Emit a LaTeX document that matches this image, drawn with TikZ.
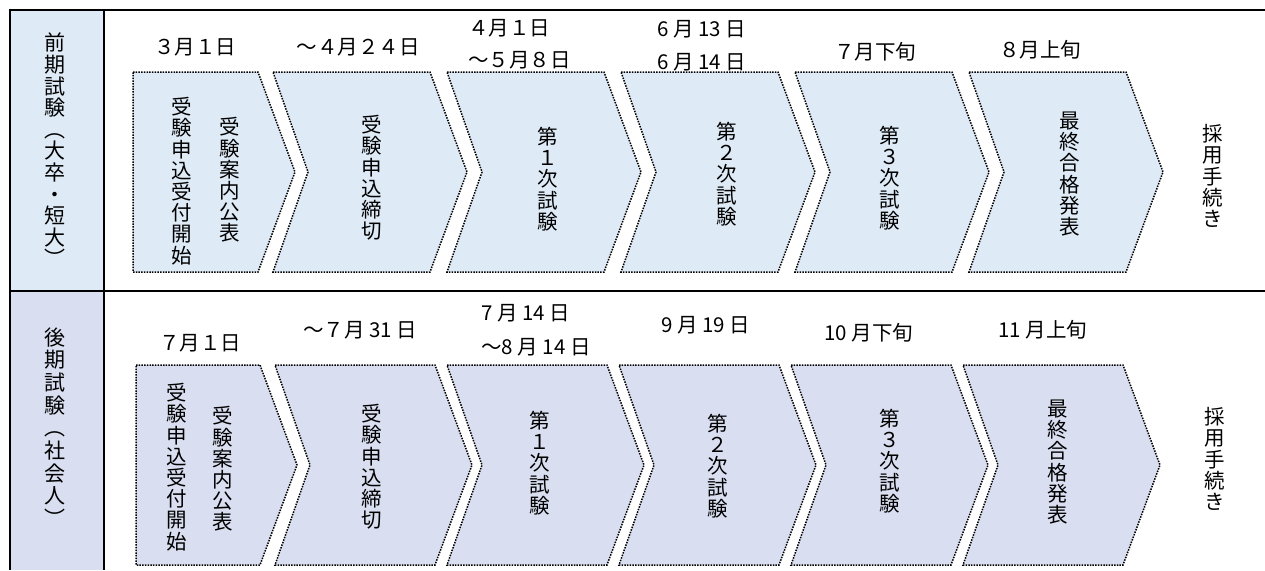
\documentclass[tikz,border=0pt]{standalone}
\usepackage{fontspec}
\setmainfont{Noto Sans CJK JP}
\definecolor{rowA}{HTML}{DEEAF6}
\definecolor{rowB}{HTML}{D9DEF0}
\tikzset{
  chevA/.style={draw=black, dash pattern=on 1.5pt off 1.2pt, line width=1.5pt, fill=rowA},
  chevB/.style={draw=black, dash pattern=on 1.5pt off 1.2pt, line width=1.5pt, fill=rowB},
  datelbl/.style={font=\fontsize{20.5}{23}\selectfont, inner sep=0pt},
  vlbl/.style={font=\fontsize{20.5}{21.2}\selectfont, align=center, inner sep=0pt},
  sidelbl/.style={font=\fontsize{21}{21.6}\selectfont, align=center, inner sep=0pt},
  gridline/.style={line width=2.6pt, black}
}
% pentagon: #1 style, #2 x left, #3 ytop, #4 ybot, #5 body width
\newcommand\pentshape[5]{%
  \draw[#1] (#2,#3) -- (#2+#5,#3) -- (#2+#5+37,{(#3+#4)/2}) -- (#2+#5,#4) -- (#2,#4) -- cycle;}
% chevron: #1 style, #2 x left, #3 ytop, #4 ybot, #5 body width
\newcommand\chevshape[5]{%
  \draw[#1] (#2,#3) -- (#2+#5,#3) -- (#2+#5+37,{(#3+#4)/2}) -- (#2+#5,#4) -- (#2,#4) -- (#2+35,{(#3+#4)/2}) -- cycle;}
\begin{document}
\begin{tikzpicture}[x=1pt,y=-1pt]
\useasboundingbox (0,0) rectangle (1265,570);
% left column fills
\fill[rowA] (10,10) rectangle (104,291);
\fill[rowB] (10,291) rectangle (104,570);
% top row chevrons
\pentshape{chevA}{133}{72}{272}{125}
\chevshape{chevA}{273}{72}{272}{157}
\chevshape{chevA}{447}{72}{272}{157}
\chevshape{chevA}{621}{72}{272}{157}
\chevshape{chevA}{795}{72}{272}{157}
\chevshape{chevA}{969}{72}{272}{157}
% bottom row chevrons
\pentshape{chevB}{136}{365}{565}{124}
\chevshape{chevB}{275}{365}{565}{160}
\chevshape{chevB}{447}{365}{565}{160}
\chevshape{chevB}{619}{365}{565}{160}
\chevshape{chevB}{791}{365}{565}{160}
\chevshape{chevB}{963}{365}{565}{160}
% table lines
\draw[gridline] (10,10) -- (1265,10);
\draw[gridline] (10,291) -- (1265,291);
\draw[gridline] (10,8.7) -- (10,570);
\draw[gridline] (104,10) -- (104,570);
% side labels
\node[sidelbl] (s1) at (55,150) {前\\期\\試\\験\\︵\\大\\卒\\・\\短\\大\\︶};
\node[sidelbl, font=\fontsize{21}{22.7}\selectfont] (s2) at (55,427) {後\\期\\試\\験\\︵\\社\\会\\人\\︶};
% top dates
\node[datelbl] (d1) at (195,47) {３月１日};
\node[datelbl] (d2) at (358,47) {～４月２４日};
\node[datelbl, anchor=west] (d3a) at (468,28) {４月１日};
\node[datelbl, anchor=west] (d3b) at (468,60) {～５月８日};
\node[datelbl, anchor=west] (d4a) at (657,29) {6 月 13 日};
\node[datelbl, anchor=west] (d4b) at (657,62) {6 月 14 日};
\node[datelbl] (d5) at (875,52) {７月下旬};
\node[datelbl] (d6) at (1040,50) {８月上旬};
% bottom dates
\node[datelbl] (e1) at (200,343) {７月１日};
\node[datelbl] (e2) at (360,330) {～７月 31 日};
\node[datelbl, anchor=west] (e3a) at (481,313) {7 月 14 日};
\node[datelbl, anchor=west] (e3b) at (481,347) {～8 月 14 日};
\node[datelbl] (e4) at (706,325) {9 月 19 日};
\node[datelbl] (e5) at (869,333) {10 月下旬};
\node[datelbl] (e6) at (1043,330) {11 月上旬};
% top chevron texts
\node[vlbl] (t1a) at (182,181) {受\\験\\申\\込\\受\\付\\開\\始};
\node[vlbl] (t1b) at (230,180) {受\\験\\案\\内\\公\\表};
\node[vlbl] (t2) at (372,178) {受\\験\\申\\込\\締\\切};
\node[vlbl] (t3) at (548,179) {第\\１\\次\\試\\験};
\node[vlbl] (t4) at (727,174) {第\\２\\次\\試\\験};
\node[vlbl] (t5) at (890,178) {第\\３\\次\\試\\験};
\node[vlbl] (t6) at (1070,174) {最\\終\\合\\格\\発\\表};
\node[vlbl] (t7) at (1213,176) {採\\用\\手\\続\\き};
% bottom chevron texts
\node[vlbl] (b1a) at (177,467) {受\\験\\申\\込\\受\\付\\開\\始};
\node[vlbl] (b1b) at (223,469) {受\\験\\案\\内\\公\\表};
\node[vlbl] (b2) at (372,467) {受\\験\\申\\込\\締\\切};
\node[vlbl] (b3) at (540,463) {第\\１\\次\\試\\験};
\node[vlbl] (b4) at (718,466) {第\\２\\次\\試\\験};
\node[vlbl] (b5) at (890,461) {第\\３\\次\\試\\験};
\node[vlbl] (b6) at (1058,462) {最\\終\\合\\格\\発\\表};
\node[vlbl] (b7) at (1215,459) {採\\用\\手\\続\\き};
\end{tikzpicture}
\end{document}
